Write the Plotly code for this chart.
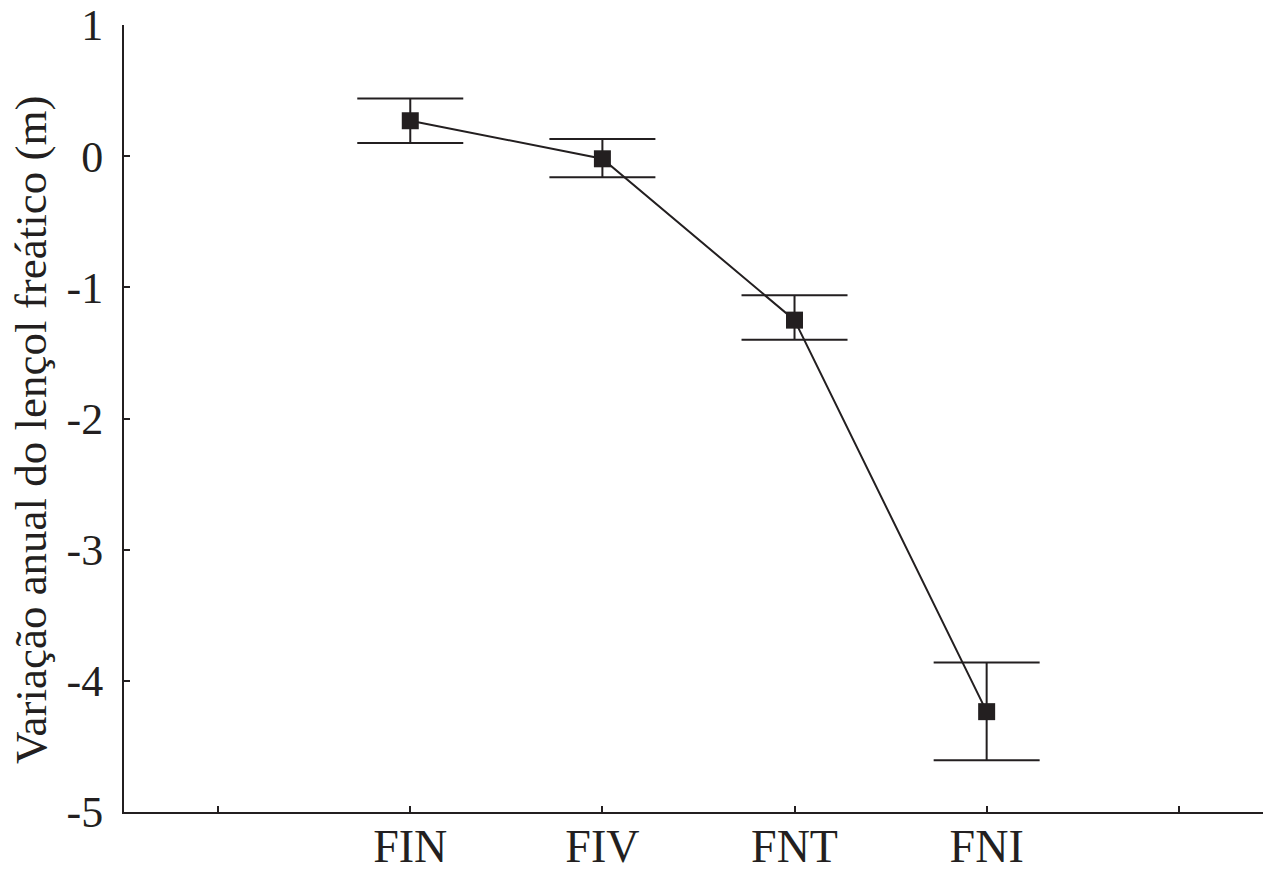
import plotly.graph_objects as go

categories = ["FIN", "FIV", "FNT", "FNI"]
x_pos = [1, 2, 3, 4]
means = [0.27, -0.02, -1.25, -4.235]
err_plus = [0.17, 0.15, 0.19, 0.375]
err_minus = [0.17, 0.14, 0.15, 0.37]

tick_vals = [0, 1, 2, 3, 4, 5]
tick_text = [""] + categories + [""]
y_ticks = [-5, -4, -3, -2, -1, 0, 1]
y_tick_text = ["-5", "-4", "-3", "-2", "-1", "0", "1"]
y_title = "Variação anual do lençol freático (m)"

ink = "#231f20"
font_family = "Liberation Serif"

fig = go.Figure()
fig.add_trace(go.Scatter(
    x=x_pos, y=means, mode="lines+markers",
    line=dict(color=ink, width=2),
    marker=dict(symbol="square", size=17, color=ink),
    error_y=dict(type="data", symmetric=False, array=err_plus, arrayminus=err_minus,
                 color=ink, thickness=2, width=53),
    showlegend=False,
))

plot_w = 1263 - 116
plot_h = 863 - 17 - 59

fig.update_layout(
    width=1263, height=863,
    margin=dict(l=116, r=0, t=17, b=59),
    paper_bgcolor="white", plot_bgcolor="white",
    font=dict(family=font_family, color=ink, size=44),
    xaxis=dict(
        range=[-0.49, 5.48], tickmode="array", tickvals=tick_vals, ticktext=tick_text,
        showline=True, linecolor=ink, linewidth=2, ticks="inside", ticklen=6,
        tickwidth=2, tickcolor=ink, showgrid=False, zeroline=False, automargin=False,
        tickfont=dict(size=46, family=font_family, color=ink),
        ticklabelstandoff=-7, ticklabeloverflow="allow",
    ),
    yaxis=dict(
        range=[-5, 1], tickmode="array", tickvals=y_ticks, ticktext=y_tick_text,
        showline=True, linecolor=ink, linewidth=2, ticks="inside", ticklen=6,
        tickwidth=2, tickcolor=ink, showgrid=False, zeroline=False, automargin=False,
        tickfont=dict(size=44, family=font_family, color=ink),
        ticklabelstandoff=10, ticklabeloverflow="allow",
    ),
    annotations=[dict(
        text=y_title, textangle=-90, showarrow=False,
        xref="paper", yref="paper",
        x=(31 - 124) / plot_w, y=(812 - 430) / plot_h,
        xanchor="center", yanchor="middle",
        font=dict(size=45, family=font_family, color=ink),
    )],
)

fig.write_html("out.html")
